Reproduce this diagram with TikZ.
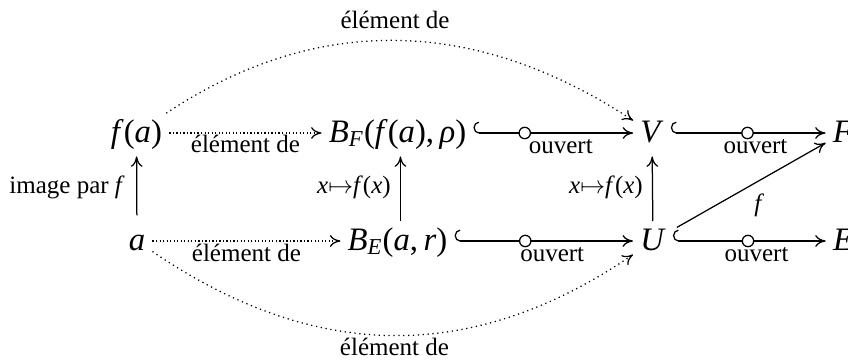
\documentclass[tikz,border=0pt]{standalone}
\usepackage{fontspec}
\setmainfont{Liberation Serif}
\usetikzlibrary{arrows.meta,calc}
\newcommand\mv[1]{\textit{#1}}
\begin{document}
\begin{tikzpicture}[x=0.44pt,y=-0.44pt,
  obj/.style={inner xsep=3pt, inner ysep=2.5pt, text height=10pt, text depth=2pt, font=\fontsize{14.4}{17}\selectfont},
  lab/.style={font=\fontsize{11}{13}\selectfont, inner sep=0pt},
  tipr/.tip={Computer Modern Rightarrow[length=4.6pt, width=5.2pt]},
  ar/.style={line width=0.55pt, -tipr},
  hk/.style={line width=0.55pt, {Hooks[right, length=2.4pt, width=10pt]}-tipr},
  dotl/.style={ar, dash pattern=on 0.55pt off 1pt},
  dotc/.style={ar, dash pattern=on 0.55pt off 1.6pt},
  circ/.style={circle, draw, fill=white, line width=0.55pt, minimum size=5pt, inner sep=0pt},
]
\useasboundingbox (0,0) rectangle (848,363);
\node[obj] (fa) at (136.5,133) {\mv{f}(\mv{a})};
\node[obj] (a) at (137,241) {\mv{a}};
\node[obj] (BF) at (397.5,133) {\mv{B}\textsubscript{\mv{F}}(\mv{f}(\mv{a}),\,\mv{ρ})};
\node[obj] (BE) at (397.5,241) {\mv{B}\textsubscript{\mv{E}}(\mv{a},\,\mv{r})};
\node[obj] (V) at (652,133) {\mv{V}};
\node[obj] (U) at (653,241) {\mv{U}};
\node[obj] (F) at (843,133) {\mv{F}};
\node[obj] (E) at (843,241) {\mv{E}};
% dotted horizontals
\draw[dotl] (fa) -- (BF) node[lab, midway, anchor=base, yshift=-8.8pt] {élément de};
\draw[dotl] (a) -- (BE) node[lab, midway, anchor=base, yshift=-9.2pt] {élément de};
% curves
\draw[dotc] (fa) .. controls (314,15) and (473,15) .. (V) node[lab, pos=0.5, anchor=base, yshift=5.3pt] {élément de};
\draw[dotc] (a) .. controls (316,363) and (474,363) .. (U) node[lab, pos=0.5, anchor=base, yshift=-9pt] {élément de};
% hooks
\draw[hk] (BF) -- (V) node[lab, pos=0.547, anchor=base, yshift=-9.2pt] {ouvert};
\node[circ] at ($(BF)!0.5!(V)$) {};
\draw[hk] (BE) -- (U) node[lab, pos=0.547, anchor=base, yshift=-9.2pt] {ouvert};
\node[circ] at ($(BE)!0.5!(U)$) {};
\draw[hk] (V) -- (F) node[lab, pos=0.547, anchor=base, yshift=-9.2pt] {ouvert};
\node[circ] at ($(V)!0.5!(F)$) {};
\draw[hk] (U) -- (E) node[lab, pos=0.547, anchor=base, yshift=-9.2pt] {ouvert};
\node[circ] at ($(U)!0.5!(E)$) {};
% verticals
\draw[ar, shorten <=2.6pt, shorten >=1.6pt] (a) -- (fa) node[lab, midway, anchor=east, xshift=-5pt] {image par \mv{f}};
\draw[ar, shorten >=1.6pt] ([xshift=1.3pt]BE.north) -- ([xshift=1.3pt]BF.south) node[lab, midway, anchor=east, xshift=-4pt] {\mv{x}$\mapsto$\mv{f}(\mv{x})};
\draw[ar, shorten >=1.6pt] (U) -- (V) node[lab, midway, anchor=east, xshift=-4pt] {\mv{x}$\mapsto$\mv{f}(\mv{x})};
% diagonal
\draw[ar, shorten <=2pt] (U) -- (F) node[lab, midway, xshift=4.4pt, yshift=-8.4pt] {\mv{f}};
\end{tikzpicture}
\end{document}
